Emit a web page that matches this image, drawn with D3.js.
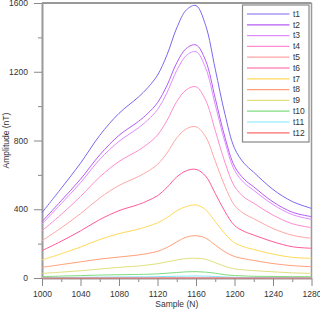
<!DOCTYPE html>
<html>
<head>
<meta charset="utf-8">
<script src="https://cdn.jsdelivr.net/npm/d3@7"></script>
<style>
  body { margin: 0; background: #fff; }
  svg { display: block; font-family: Arial, "Liberation Sans", sans-serif; }
</style>
</head>
<body>
<div id="chart"></div>
<script>
/* Amplitude vs sample, 12 traces */

// sample positions (N)
const samples = [1000, 1020, 1040, 1060, 1080, 1100, 1110, 1120, 1130, 1140, 1150, 1160, 1170, 1180, 1190, 1200, 1210, 1220, 1240, 1260, 1280];

// amplitude (nT) per trace
const t1  = [380, 522, 668, 830, 958, 1052, 1108, 1180, 1300, 1455, 1560, 1585, 1470, 1215, 955, 755, 667, 615, 515, 445, 405];
const t2  = [328, 450, 575, 716, 830, 910, 958, 1020, 1122, 1252, 1336, 1356, 1265, 1045, 820, 650, 575, 530, 443, 383, 357];
const t3  = [314, 433, 554, 690, 795, 873, 920, 980, 1080, 1208, 1295, 1317, 1222, 1008, 793, 627, 554, 510, 427, 369, 341];
const t4  = [275, 370, 474, 588, 678, 742, 781, 832, 918, 1027, 1095, 1113, 1035, 858, 674, 533, 470, 435, 366, 316, 293];
const t5  = [217, 292, 374, 466, 538, 590, 621, 661, 728, 815, 868, 880, 822, 680, 535, 423, 374, 345, 288, 249, 231];
const t6  = [159, 214, 274, 340, 392, 427, 450, 479, 528, 588, 624, 632, 593, 492, 387, 306, 271, 250, 211, 182, 173];
const t7  = [105, 141, 180, 224, 258, 284, 301, 321, 352, 391, 416, 425, 397, 328, 258, 205, 181, 166, 139, 120, 115];
const t8  = [62, 78, 94, 110, 122, 134, 143, 155, 178, 210, 238, 246, 232, 192, 152, 125, 112, 102, 84, 72, 66];
const t9  = [27, 34, 42, 52, 62, 70, 76, 83, 94, 105, 113, 115, 109, 89, 68, 53, 47, 43, 36, 30, 27];
const t10 = [8, 11, 14, 17, 19, 21, 22, 24, 28, 32, 36, 37, 34, 28, 19, 14, 12, 10, 9, 8, 8];
const t11 = [2, 3, 4, 5, 6, 7, 7, 8, 9, 10, 11, 12, 11, 9, 6, 4, 3, 3, 2, 2, 2];
const t12 = [0, 0, 0, 0, 0, 0, 0, 0, 0, 0, 0, 0, 0, 0, 0, 0, 0, 0, 0, 0, 0];

const names = ["t1", "t2", "t3", "t4", "t5", "t6", "t7", "t8", "t9", "t10", "t11", "t12"];
const colors = ["#7b68ee", "#b45cf5", "#e08cff", "#ff8ccf", "#ffa6a6", "#ff5a9a",
                "#ffd95a", "#ffa07a", "#e0e080", "#80dc80", "#7fe8ff", "#ff6b6b"];

const xTicks = [1000, 1040, 1080, 1120, 1160, 1200, 1240, 1280];
const yTicks = [0, 400, 800, 1200, 1600];

const series = [t1, t2, t3, t4, t5, t6, t7, t8, t9, t10, t11, t12];

const width = 320,
      height = 309,
      margin = ({ top: 3, right: 8.5, bottom: 31, left: 42 });

let svg = d3.select("#chart")
    .append("svg")
    .attr("width", width)
    .attr("height", height);

let x = d3.scaleLinear()
    .domain([1000, 1280])
    .range([margin.left, width - margin.right]);

let y = d3.scaleLinear()
    .domain([0, 1600])
    .range([height - margin.bottom, margin.top]);

// frame: top and right
svg.append("line")
    .attr("x1", margin.left).attr("x2", width - margin.right)
    .attr("y1", margin.top).attr("y2", margin.top)
    .attr("stroke", "#999").attr("stroke-width", 2);
svg.append("line")
    .attr("x1", width - margin.right).attr("x2", width - margin.right)
    .attr("y1", margin.top).attr("y2", height - margin.bottom)
    .attr("stroke", "#999").attr("stroke-width", 1.5);

// minor ticks
svg.append("g")
    .attr("transform", `translate(0,${height - margin.bottom})`)
    .call(d3.axisBottom(x).tickValues(d3.range(1020, 1280, 40)).tickSize(4).tickFormat(""))
    .call(g => g.select(".domain").remove())
    .call(g => g.selectAll("line").attr("stroke", "#888"));
svg.append("g")
    .attr("transform", `translate(${margin.left},0)`)
    .call(d3.axisLeft(y).tickValues([200, 600, 1000, 1400]).tickSize(4).tickFormat(""))
    .call(g => g.select(".domain").remove())
    .call(g => g.selectAll("line").attr("stroke", "#888"));

// major axes
svg.append("g")
    .attr("transform", `translate(0,${height - margin.bottom})`)
    .call(d3.axisBottom(x).tickValues(xTicks).tickSize(8).tickSizeOuter(0).tickPadding(5).tickFormat(d3.format("d")))
    .call(g => g.select(".domain").attr("stroke", "#999").attr("stroke-width", 2))
    .call(g => g.selectAll("line").attr("stroke", "#888"))
    .call(g => g.selectAll("text").attr("fill", "#333").style("font-size", "8.5px"));

svg.append("g")
    .attr("transform", `translate(${margin.left},0)`)
    .call(d3.axisLeft(y).tickValues(yTicks).tickSize(8).tickSizeOuter(0).tickPadding(6).tickFormat(d3.format("d")))
    .call(g => g.select(".domain").attr("stroke", "#999").attr("stroke-width", 2))
    .call(g => g.selectAll("line").attr("stroke", "#888"))
    .call(g => g.selectAll("text").attr("fill", "#333").style("font-size", "8.5px"));

// axis titles
svg.append("text")
    .attr("x", (margin.left + width - margin.right) / 2)
    .attr("y", height - 2)
    .attr("text-anchor", "middle")
    .style("font-size", "8.5px")
    .attr("fill", "#333")
    .text("Sample (N)");

svg.append("text")
    .attr("transform", `translate(9,${(margin.top + height - margin.bottom) / 2}) rotate(-90)`)
    .attr("text-anchor", "middle")
    .style("font-size", "8.5px")
    .attr("fill", "#333")
    .text("Amplitude (nT)");

// traces
let line = d3.line()
    .x((d, i) => x(samples[i]))
    .y(d => y(d))
    .curve(d3.curveCatmullRom.alpha(0.5));

svg.selectAll(".trace")
    .data(series)
    .join("path")
    .attr("class", "trace")
    .attr("fill", "none")
    .attr("stroke", (d, i) => colors[i])
    .attr("stroke-width", 1)
    .attr("d", line);

// legend
const lg = { x: 242.5, y: 5, w: 66.5, h: 137, step: 10.8 };
svg.append("rect")
    .attr("x", lg.x).attr("y", lg.y)
    .attr("width", lg.w).attr("height", lg.h)
    .attr("fill", "#fff")
    .attr("stroke", "#888").attr("stroke-width", 1.2);

let item = svg.selectAll(".legend")
    .data(names)
    .join("g")
    .attr("class", "legend")
    .attr("transform", (d, i) => `translate(${lg.x},${lg.y + 9 + i * lg.step})`);

item.append("line")
    .attr("x1", 4.5).attr("x2", 47)
    .attr("stroke", (d, i) => colors[i])
    .attr("stroke-width", 1.2);

item.append("text")
    .attr("x", 50.5)
    .attr("dy", "0.33em")
    .style("font-size", "8.5px")
    .attr("fill", "#333")
    .text(d => d);
</script>
</body>
</html>
